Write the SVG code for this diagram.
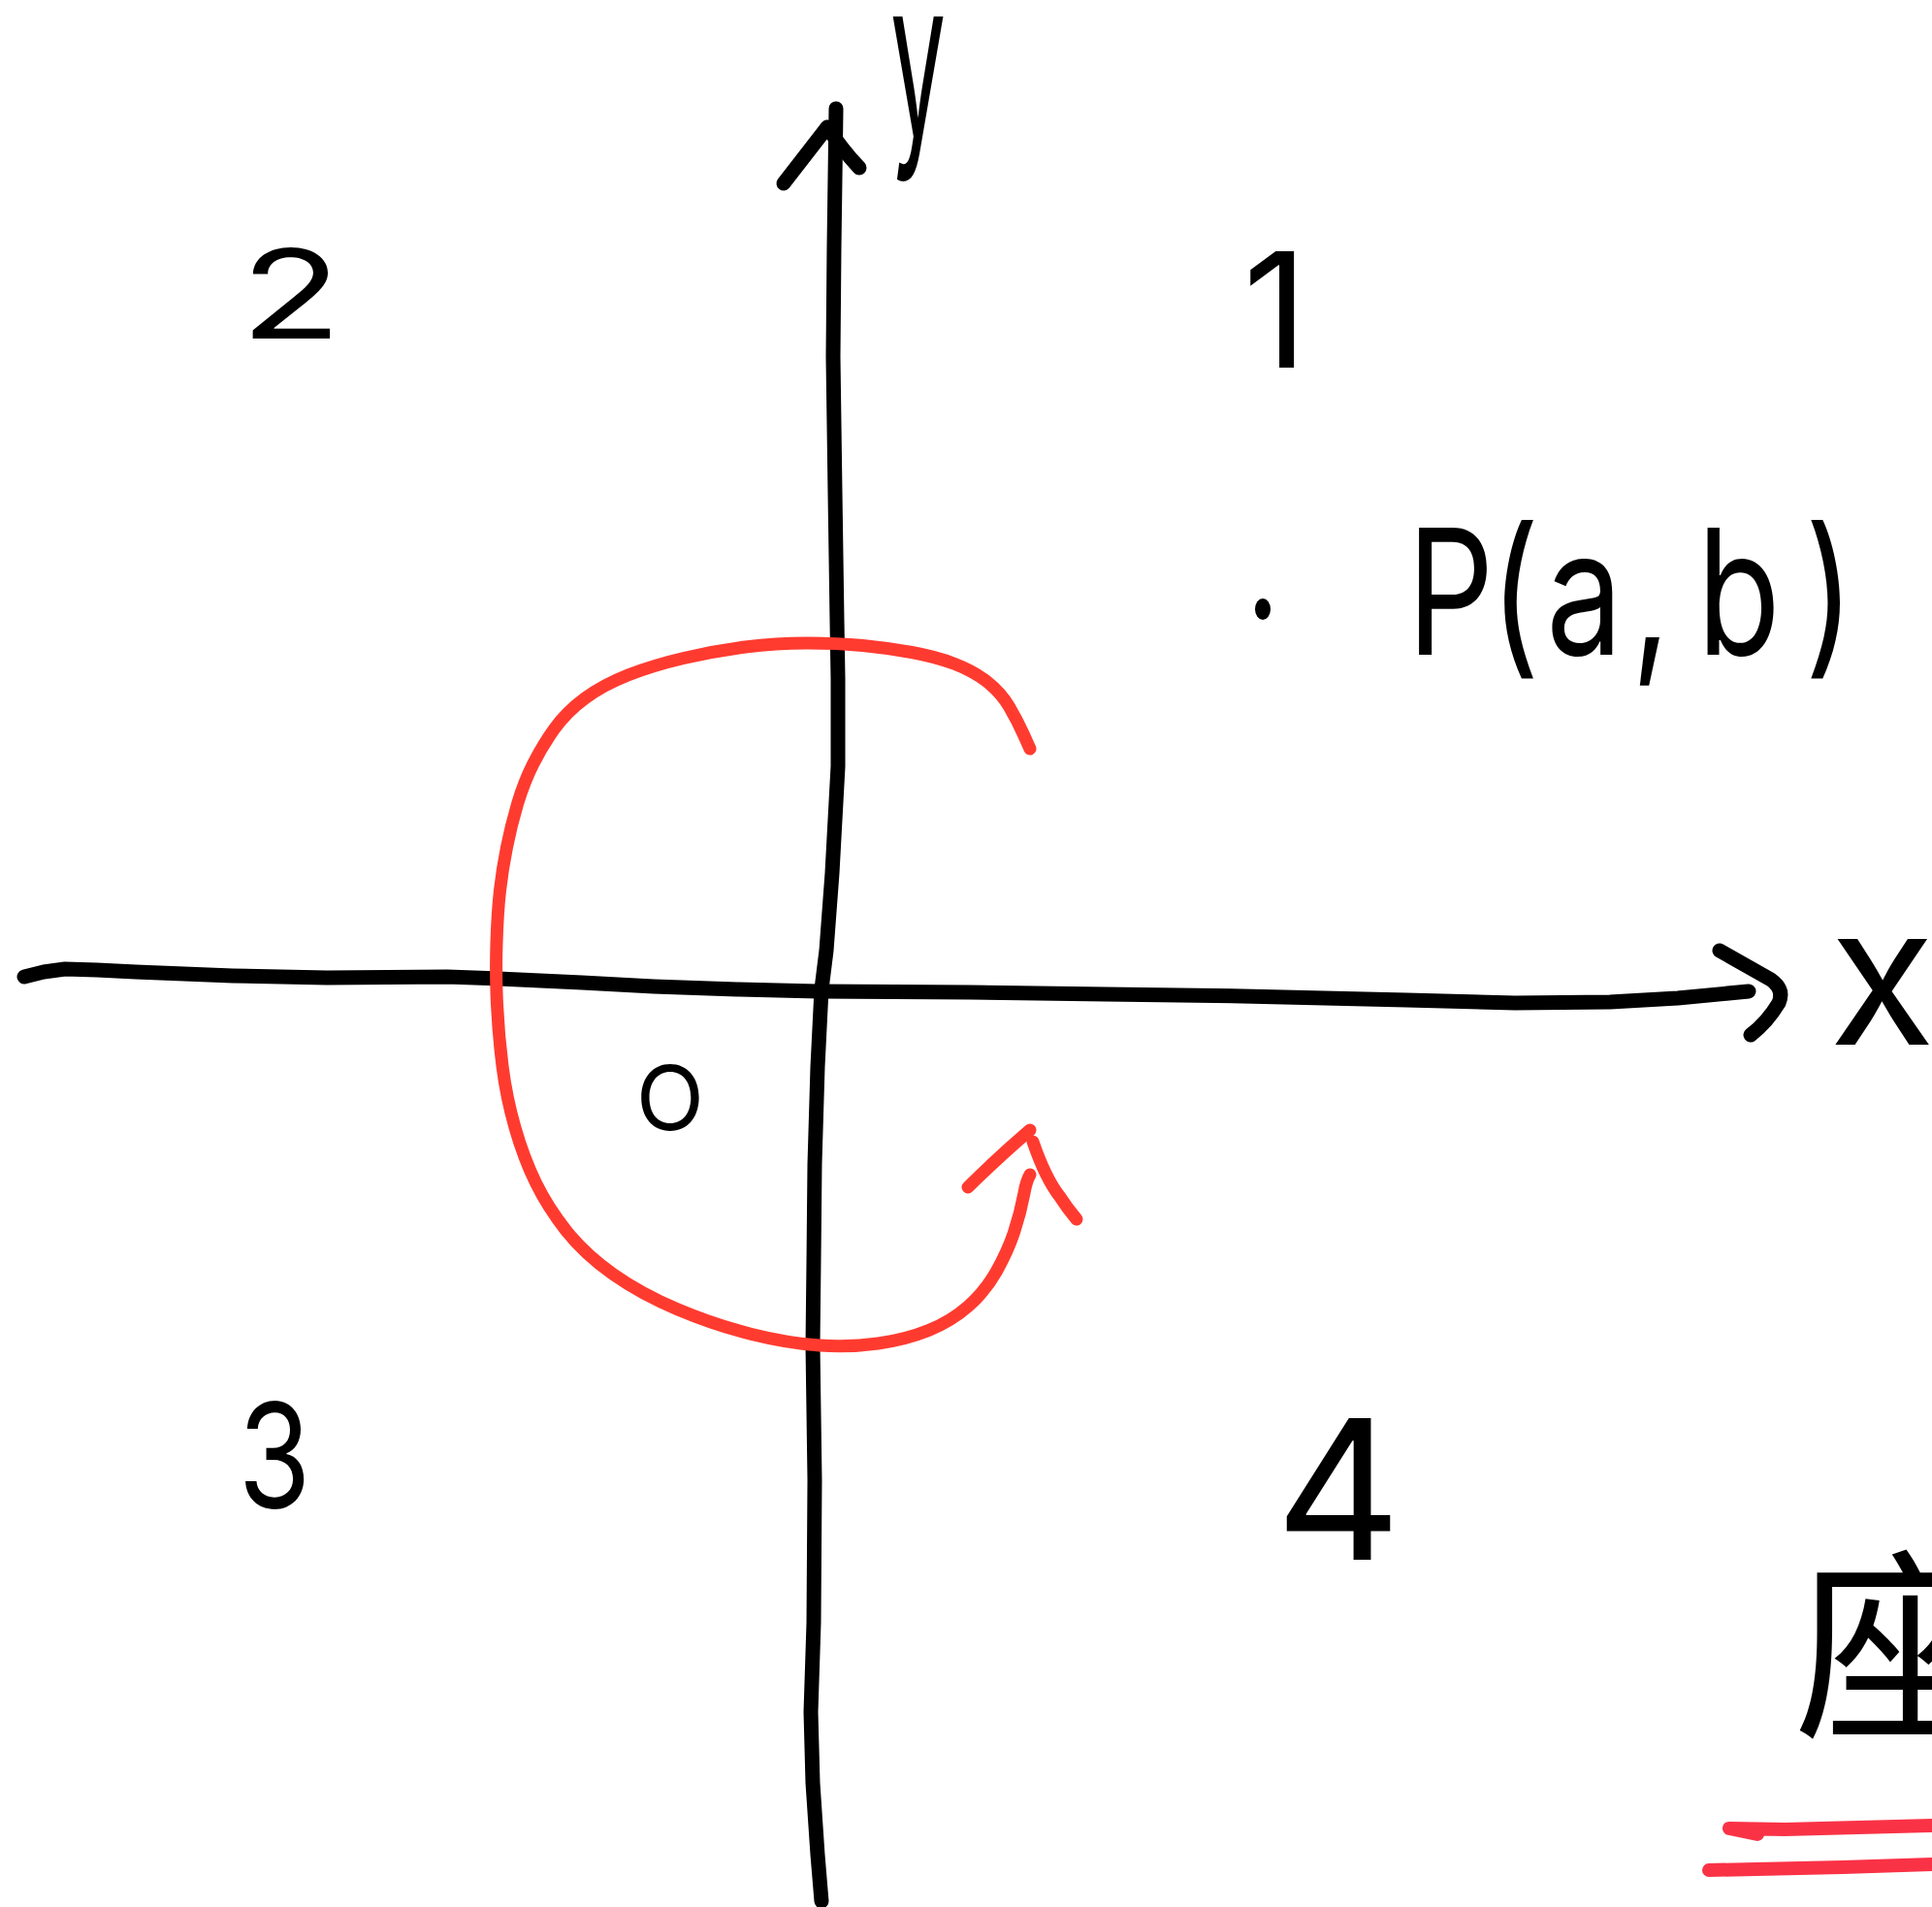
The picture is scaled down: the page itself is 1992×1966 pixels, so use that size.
<svg xmlns="http://www.w3.org/2000/svg" width="1992" height="1966" viewBox="0 0 1992 1966">
<style>
.ink{fill:none;stroke:#000;stroke-width:15;stroke-linecap:round;stroke-linejoin:round}
.red{fill:none;stroke:#ff3b30;stroke-width:13;stroke-linecap:round;stroke-linejoin:round}
.red2{fill:none;stroke:#fa3246;stroke-width:14;stroke-linecap:round;stroke-linejoin:round}
.lbl{font-family:"Inter","Liberation Sans",sans-serif;font-weight:400;fill:#000}
.cjk{font-family:"Noto Sans CJK SC","Noto Sans CJK JP",sans-serif;font-weight:400;fill:#000}
</style>
<rect width="1992" height="1966" fill="#fff"/>
<g id="connectors">
  <g id="axis-x">
    <polyline class="ink" points="25,1007 45,1002 67,999 100,1000 140,1002 240,1006 337,1008 461,1007 514,1009 600,1013 674,1017 760,1020 843,1022 1000,1023 1140,1025 1281,1027 1450,1031 1562,1034 1660,1033 1730,1029 1803,1022"/>
    <path class="ink" d="M1773,980 L1826,1010 Q1840,1020 1834,1034 Q1822,1054 1805,1067"/>
  </g>
  <g id="axis-y">
    <polyline class="ink" points="847,1960 843,1912 838,1838 836,1765 839,1673 840,1526 838,1387 839,1300 840,1200 843,1100 847,1020 852,980 858,900 864,790 864,700 863,640 861,508 859,368 860,254 862,112"/>
    <path class="ink" d="M808,189 L853,131 Q868,154 886,173"/>
  </g>
  <g id="rotation-arrow">
    <path class="red" d="M1062,772 L1055.5,757.5 Q1049,743 1040.5,728.5 Q1032,714 1018,703 Q1004,692 984.5,684.5 Q965,677 940,672.5 Q915,668 889.5,665.5 Q864,663 832,663 Q800,663 768.5,667 Q737,671 705,678.5 Q673,686 647.5,696 Q622,706 603,720 Q584,734 571.5,751.5 Q559,769 549.5,788 Q540,807 533.5,829 Q527,851 522.5,873.5 Q518,896 515.5,918 Q513,940 512,972 Q511,1004 512.5,1035.5 Q514,1067 518,1099 Q522,1131 531,1162.5 Q540,1194 552.5,1219.5 Q565,1245 584,1269 Q603,1293 632,1313.5 Q661,1334 699,1350 Q737,1366 775,1375.5 Q813,1385 845,1387 Q877,1389 905.5,1385 Q934,1381 957.5,1371.5 Q981,1362 998.5,1346.5 Q1016,1331 1027.5,1310.5 Q1039,1290 1045.5,1270.5 Q1052,1251 1056,1230 Q1058,1218 1062,1211"/>
    <path class="red" d="M998,1224 Q1026,1196 1062,1165"/>
    <path class="red" d="M1065,1177 Q1078,1215 1093,1234 Q1100,1245 1110,1257"/>
  </g>
  <g id="underline">
    <polyline class="red2" points="1812,1891 1783,1885 1840,1886 1992,1882"/>
    <polyline class="red2" points="1762,1928 1900,1925 1992,1922"/>
  </g>
</g>
<g id="label-y"><text class="lbl" font-size="226" transform="translate(918,140) scale(0.45,1)">y</text></g>
<g id="label-x"><text class="lbl" x="1886" y="1077" font-size="200">x</text></g>
<g id="label-origin"><text class="lbl" x="691" y="1165" font-size="92" font-weight="700" text-anchor="middle">O</text></g>
<g id="quadrant-1"><text class="lbl" x="1315" y="379" font-size="165" text-anchor="middle">1</text></g>
<g id="quadrant-2"><text class="lbl" font-size="127" font-weight="500" text-anchor="middle" transform="translate(300,349) scale(1.35,1)">2</text></g>
<g id="quadrant-3"><text class="lbl" font-size="151" font-weight="500" text-anchor="middle" transform="translate(283,1555) scale(0.8,1)">3</text></g>
<g id="quadrant-4"><text class="lbl" x="1380" y="1608" font-size="201" text-anchor="middle">4</text></g>
<g id="point-p">
  <ellipse cx="1302" cy="628" rx="8" ry="11" fill="#000"/>
  <text class="lbl" font-size="180" text-anchor="middle" transform="translate(1455,675) scale(0.78,1)"><tspan x="52">P</tspan><tspan x="137">(</tspan><tspan x="229">a</tspan><tspan x="317">,</tspan><tspan x="433">b</tspan><tspan x="553">)</tspan></text>
</g>
<g id="note"><text class="cjk" x="1850" y="1776" font-size="210">座</text></g>
</svg>
